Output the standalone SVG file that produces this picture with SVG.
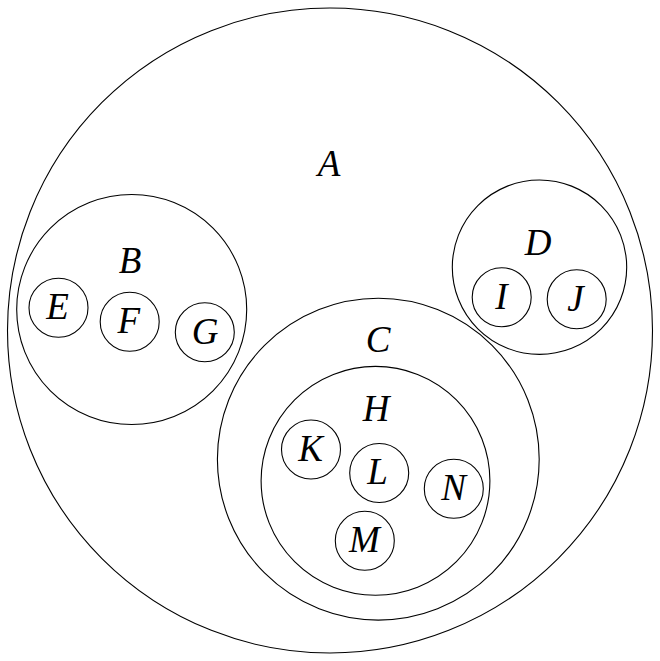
<svg xmlns="http://www.w3.org/2000/svg" width="660" height="661" viewBox="0 0 660 661">
<style>
circle{fill:none;stroke:#000;stroke-width:1.1}
text{font-family:"Liberation Serif","Times New Roman",serif;font-style:italic;font-size:37px;text-anchor:middle;fill:#000}
</style>
<rect width="660" height="661" fill="#fff"/>
<g id="A"><circle cx="330" cy="330.5" r="322.5"/><text x="329" y="176">A</text></g>
<g id="B"><circle cx="131.7" cy="309.5" r="115"/><text x="130" y="273">B</text></g>
<g id="E"><circle cx="58.5" cy="307.7" r="29.5"/><text x="57.5" y="319">E</text></g>
<g id="F"><circle cx="129.7" cy="321.8" r="29.5"/><text x="128.7" y="333">F</text></g>
<g id="G"><circle cx="204.8" cy="332.2" r="29.5"/><text x="205" y="343.5">G</text></g>
<g id="D"><circle cx="539.5" cy="267.2" r="87.2"/><text x="538" y="255">D</text></g>
<g id="I"><circle cx="501.7" cy="297.2" r="29.5"/><text x="501.5" y="308.5">I</text></g>
<g id="J"><circle cx="576.7" cy="299.2" r="29.5"/><text x="575.5" y="310.5">J</text></g>
<g id="C"><circle cx="378.3" cy="459.2" r="160.9"/><text x="378" y="351.7">C</text></g>
<g id="H"><circle cx="375.5" cy="480.8" r="114.4"/><text x="376" y="421">H</text></g>
<g id="K"><circle cx="311" cy="449.5" r="29.5"/><text x="310.5" y="461">K</text></g>
<g id="L"><circle cx="379.2" cy="473" r="29.5"/><text x="377.5" y="484.3">L</text></g>
<g id="N"><circle cx="453.8" cy="488.8" r="29.5"/><text x="453.5" y="500">N</text></g>
<g id="M"><circle cx="364.8" cy="540.7" r="29.5"/><text x="364.5" y="552">M</text></g>
<g id="connectors"></g>
</svg>
